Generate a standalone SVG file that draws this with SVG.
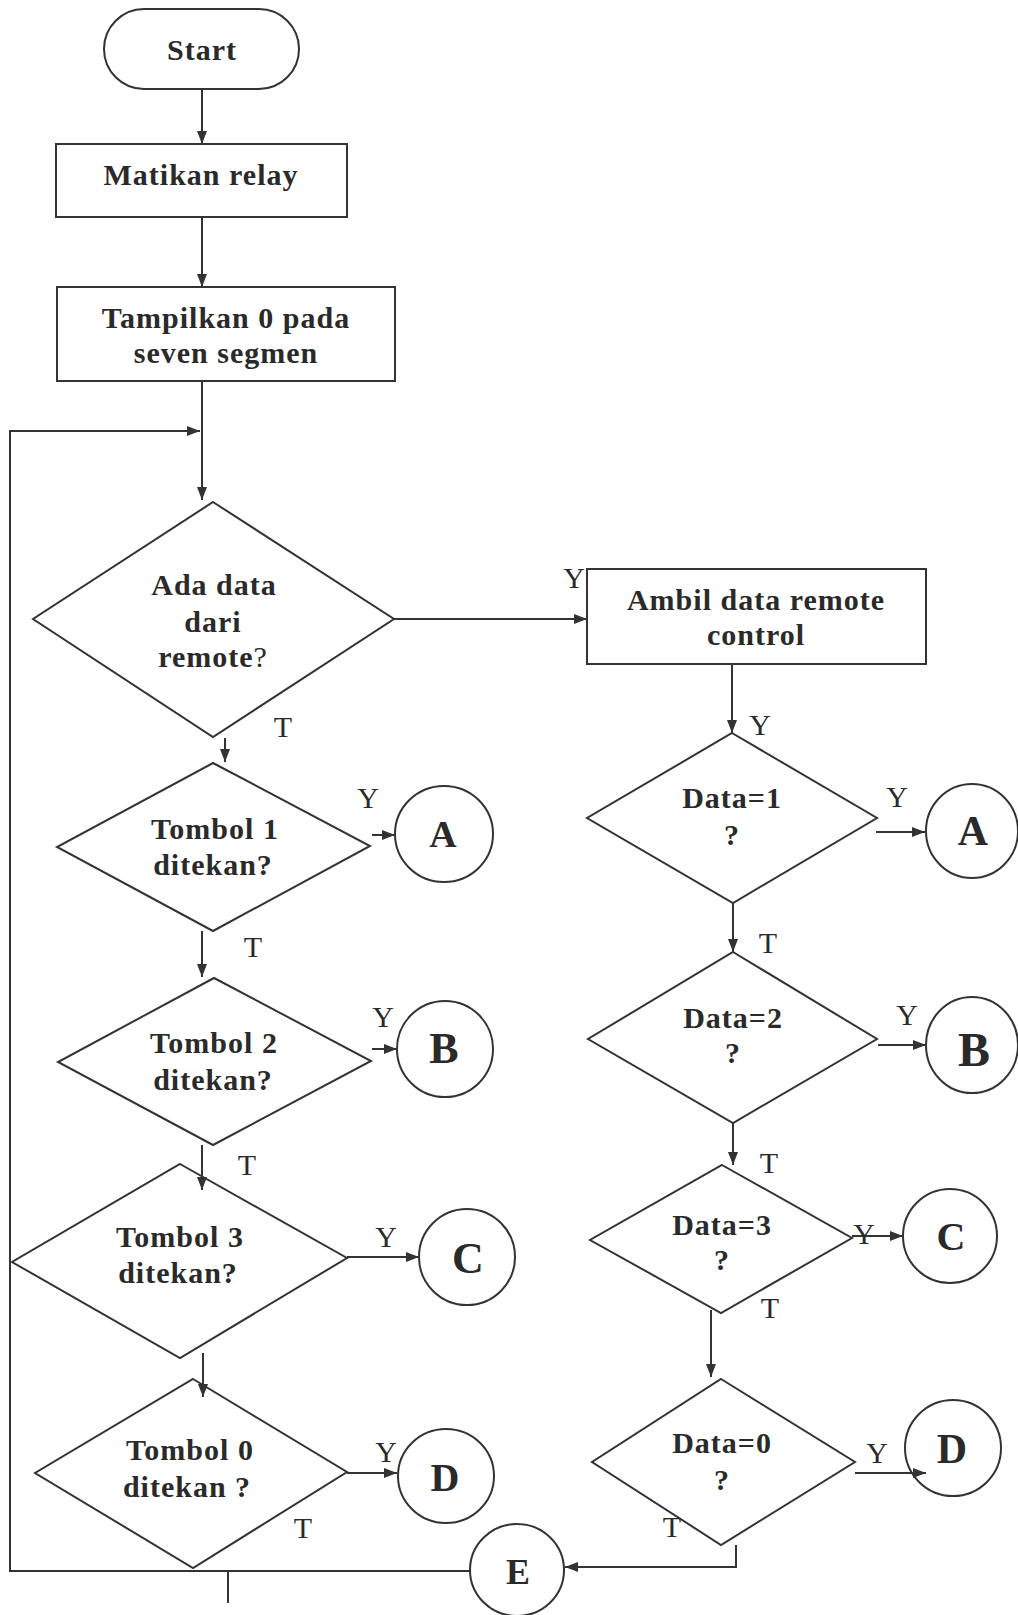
<svg xmlns="http://www.w3.org/2000/svg" width="1018" height="1615" viewBox="0 0 1018 1615">
<style>
.s{fill:none;stroke:#333;stroke-width:2}
.n{fill:#fff;stroke:#333;stroke-width:2}
.t{font-family:"Liberation Serif","Times New Roman",serif;font-weight:bold;font-size:30px;fill:#2a2a2a;text-anchor:middle;letter-spacing:1px}
.l{font-family:"Liberation Serif","Times New Roman",serif;font-size:30px;fill:#2a2a2a;text-anchor:middle}
.c{font-family:"Liberation Serif","Times New Roman",serif;font-weight:bold;fill:#2a2a2a;text-anchor:middle}
</style>
<defs>
<marker id="ah" markerUnits="userSpaceOnUse" markerWidth="14" markerHeight="12" refX="13" refY="6" orient="auto">
<path d="M0,1 L13,6 L0,11 Z" fill="#333"/>
</marker>
</defs>
<rect width="1018" height="1615" fill="#fff"/>
<g id="start">
<rect class="n" x="104" y="9" width="195" height="80" rx="40" ry="40"/>
<text class="t" x="202" y="60">Start</text>
</g>
<g id="matikan">
<rect class="n" x="56" y="144" width="291" height="73"/>
<text class="t" x="201" y="185">Matikan relay</text>
</g>
<g id="tampilkan">
<rect class="n" x="57" y="287" width="338" height="94"/>
<text class="t" x="226" y="328">Tampilkan 0 pada</text>
<text class="t" x="226" y="363">seven segmen</text>
</g>
<g id="ada-data">
<polygon class="n" points="213,502 394,619 213,737 33,619"/>
<text class="t" x="214" y="595">Ada data</text>
<text class="t" x="213" y="632">dari</text>
<text class="t" x="213" y="667">remote<tspan font-weight="normal">?</tspan></text>
</g>
<g id="ambil">
<rect class="n" x="587" y="569" width="339" height="95"/>
<text class="t" x="756" y="610">Ambil data remote</text>
<text class="t" x="756" y="645">control</text>
</g>
<g id="tombol1">
<polygon class="n" points="213,763 370,846 213,931 57,847"/>
<text class="t" x="215" y="839">Tombol 1</text>
<text class="t" x="213" y="875">ditekan?</text>
</g>
<g id="tombol2">
<polygon class="n" points="214,978 371,1061 213,1145 58,1062"/>
<text class="t" x="214" y="1053">Tombol 2</text>
<text class="t" x="213" y="1090">ditekan?</text>
</g>
<g id="tombol3">
<polygon class="n" points="180,1164 347,1258 180,1358 12,1262"/>
<text class="t" x="180" y="1247">Tombol 3</text>
<text class="t" x="178" y="1283">ditekan?</text>
</g>
<g id="tombol0">
<polygon class="n" points="193,1379 347,1472 193,1568 35,1473"/>
<text class="t" x="190" y="1460">Tombol 0</text>
<text class="t" x="187" y="1497">ditekan ?</text>
</g>
<g id="data1">
<polygon class="n" points="732,733 877,818 733,903 587,818"/>
<text class="t" x="732" y="808">Data=1</text>
<text class="t" x="732" y="845">?</text>
</g>
<g id="data2">
<polygon class="n" points="733,952 877,1039 733,1123 588,1039"/>
<text class="t" x="733" y="1028">Data=2</text>
<text class="t" x="733" y="1063">?</text>
</g>
<g id="data3">
<polygon class="n" points="722,1165 852,1238 721,1313 590,1240"/>
<text class="t" x="722" y="1235">Data=3</text>
<text class="t" x="722" y="1270">?</text>
</g>
<g id="data0">
<polygon class="n" points="721,1379 855,1462 721,1545 592,1462"/>
<text class="t" x="722" y="1453">Data=0</text>
<text class="t" x="722" y="1490">?</text>
</g>
<g id="conn-a-left">
<ellipse class="n" cx="444" cy="834" rx="49" ry="48"/>
<text class="c" x="443" y="847" font-size="38">A</text>
</g>
<g id="conn-b-left">
<ellipse class="n" cx="445" cy="1049" rx="48" ry="48"/>
<text class="c" x="444" y="1063" font-size="44">B</text>
</g>
<g id="conn-c-left">
<ellipse class="n" cx="467" cy="1257" rx="48" ry="48"/>
<text class="c" x="468" y="1273" font-size="44">C</text>
</g>
<g id="conn-d-left">
<ellipse class="n" cx="446" cy="1476" rx="48" ry="47"/>
<text class="c" x="445" y="1491" font-size="40">D</text>
</g>
<g id="conn-a-right">
<ellipse class="n" cx="972" cy="831" rx="46" ry="47"/>
<text class="c" x="973" y="845" font-size="42">A</text>
</g>
<g id="conn-b-right">
<ellipse class="n" cx="972" cy="1045" rx="46" ry="48"/>
<text class="c" x="974" y="1066" font-size="48">B</text>
</g>
<g id="conn-c-right">
<ellipse class="n" cx="950" cy="1236" rx="47" ry="47"/>
<text class="c" x="951" y="1250" font-size="40">C</text>
</g>
<g id="conn-d-right">
<ellipse class="n" cx="953" cy="1448" rx="48" ry="48"/>
<text class="c" x="952" y="1463" font-size="42">D</text>
</g>
<g id="conn-e">
<ellipse class="n" cx="517" cy="1570" rx="47" ry="46"/>
<text class="c" x="518" y="1584" font-size="36">E</text>
</g>
<g id="connectors">
<line class="s" x1="202" y1="89" x2="202" y2="144" marker-end="url(#ah)"/>
<line class="s" x1="202" y1="217" x2="202" y2="287" marker-end="url(#ah)"/>
<line class="s" x1="202" y1="381" x2="202" y2="500" marker-end="url(#ah)"/>
<polyline class="s" points="470,1571 10,1571 10,431 200,431" marker-end="url(#ah)"/>
<line class="s" x1="228" y1="1571" x2="228" y2="1603"/>
<line class="s" x1="394" y1="619" x2="587" y2="619" marker-end="url(#ah)"/>
<line class="s" x1="225" y1="738" x2="225" y2="762" marker-end="url(#ah)"/>
<line class="s" x1="372" y1="835" x2="395" y2="835" marker-end="url(#ah)"/>
<line class="s" x1="202" y1="931" x2="202" y2="977" marker-end="url(#ah)"/>
<line class="s" x1="372" y1="1049" x2="397" y2="1049" marker-end="url(#ah)"/>
<line class="s" x1="202" y1="1145" x2="202" y2="1190" marker-end="url(#ah)"/>
<line class="s" x1="347" y1="1257" x2="419" y2="1257" marker-end="url(#ah)"/>
<line class="s" x1="203" y1="1353" x2="203" y2="1397" marker-end="url(#ah)"/>
<line class="s" x1="347" y1="1473" x2="397" y2="1473" marker-end="url(#ah)"/>
<line class="s" x1="732" y1="664" x2="732" y2="733" marker-end="url(#ah)"/>
<line class="s" x1="876" y1="832" x2="925" y2="832" marker-end="url(#ah)"/>
<line class="s" x1="733" y1="903" x2="733" y2="952" marker-end="url(#ah)"/>
<line class="s" x1="878" y1="1045" x2="926" y2="1045" marker-end="url(#ah)"/>
<line class="s" x1="733" y1="1123" x2="733" y2="1165" marker-end="url(#ah)"/>
<line class="s" x1="852" y1="1236" x2="903" y2="1236" marker-end="url(#ah)"/>
<line class="s" x1="711" y1="1310" x2="711" y2="1377" marker-end="url(#ah)"/>
<line class="s" x1="855" y1="1473" x2="926" y2="1473" marker-end="url(#ah)"/>
<polyline class="s" points="736,1545 736,1567 565,1567" marker-end="url(#ah)"/>
<text class="l" x="574" y="588">Y</text>
<text class="l" x="283" y="737">T</text>
<text class="l" x="368" y="808">Y</text>
<text class="l" x="253" y="957">T</text>
<text class="l" x="383" y="1027">Y</text>
<text class="l" x="247" y="1175">T</text>
<text class="l" x="386" y="1247">Y</text>
<text class="l" x="386" y="1462">Y</text>
<text class="l" x="303" y="1538">T</text>
<text class="l" x="760" y="735">Y</text>
<text class="l" x="897" y="807">Y</text>
<text class="l" x="768" y="953">T</text>
<text class="l" x="907" y="1025">Y</text>
<text class="l" x="769" y="1173">T</text>
<text class="l" x="864" y="1244">Y</text>
<text class="l" x="770" y="1318">T</text>
<text class="l" x="877" y="1463">Y</text>
<text class="l" x="672" y="1537">T</text>
</g>
</svg>
